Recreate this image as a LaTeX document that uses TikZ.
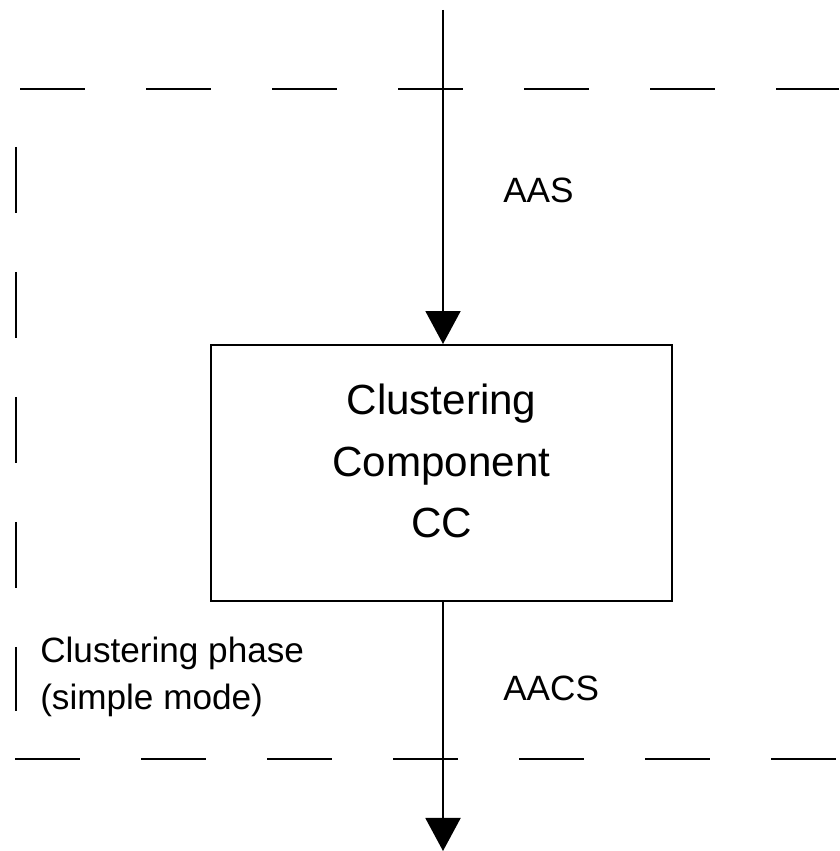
\documentclass[tikz,border=0pt]{standalone}
\usepackage{fontspec}
\setmainfont{Liberation Sans}
\usepackage{tikz}
\usetikzlibrary{arrows.meta, positioning, calc}

\begin{document}
\begin{tikzpicture}[
  component/.style={draw, line width=1.4pt, minimum width=11.525cm, minimum height=6.4cm},
  cctext/.style={align=center, font=\fontsize{30}{44}\selectfont},
  arr/.style={-{Triangle[width=0.875cm, length=0.825cm]}, line width=1.4pt},
  phase/.style={line width=1.8pt, dash pattern=on 1.625cm off 1.525cm},
  lbl/.style={anchor=west, align=left, font=\fontsize{25}{34}\selectfont, inner sep=0pt}
]
\useasboundingbox (0, 0) rectangle (20.975, 21.275);

% Component
\node[component] (cc) at (11.0375, 9.45) {};
\node[cctext] (cclabel) at ([yshift=0.3cm]cc.center) {Clustering\\Component\\CC};

% Phase boundary (right side outside the picture)
\draw[phase] (0.5, 19.05) -- (20.975, 19.05);
\draw[phase, dash pattern=on 1.65cm off 1.475cm] (0.4, 17.6) -- (0.4, 3.5);
\draw[phase] (0.375, 2.3) -- (20.975, 2.3);
\node[lbl] (phase) at (1.0, 4.35) {Clustering phase\\(simple mode)};

% Input / output
\coordinate (in) at (11.075, 21.025);
\coordinate (out) at (11.075, 0);
\draw[arr] (in) -- (cc.north -| in);
\draw[arr] (cc.south -| out) -- (out);

% Labels
\node[lbl] (aas) at (12.575, 16.525) {AAS};
\node[lbl] (aacs) at (12.575, 4.075) {AACS};

\end{tikzpicture}
\end{document}
